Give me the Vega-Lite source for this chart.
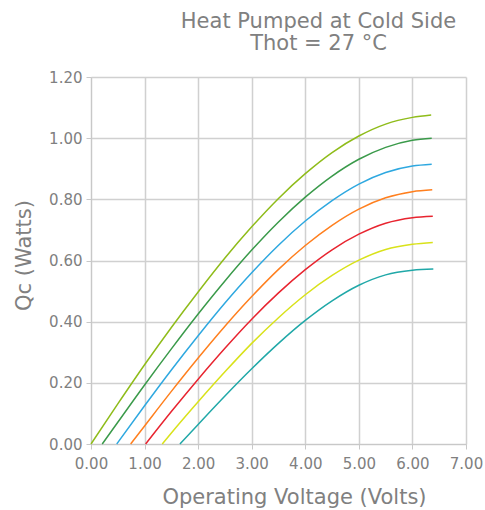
{
  "$schema": "https://vega.github.io/schema/vega-lite/v6.json",
  "width": 375,
  "height": 367,
  "autosize": {"type": "none"},
  "padding": {"left": 91, "top": 77, "right": 19, "bottom": 66},
  "config": {"font": "DejaVu Sans", "view": {"stroke": null}},
  "title": {
    "text": ["Heat Pumped at Cold Side", "Thot = 27 °C"],
    "anchor": "middle",
    "dx": 40,
    "fontSize": 21,
    "fontWeight": "normal",
    "color": "#808080",
    "lineHeight": 22,
    "offset": 16
  },
  "data": {
    "values": [
      {"s": "a", "V": 0.0, "Q": 0.0},
      {"s": "a", "V": 0.5, "Q": 0.131},
      {"s": "a", "V": 1.0, "Q": 0.259},
      {"s": "a", "V": 1.5, "Q": 0.381},
      {"s": "a", "V": 2.0, "Q": 0.497},
      {"s": "a", "V": 2.5, "Q": 0.608},
      {"s": "a", "V": 3.0, "Q": 0.710},
      {"s": "a", "V": 3.5, "Q": 0.803},
      {"s": "a", "V": 4.0, "Q": 0.884},
      {"s": "a", "V": 4.5, "Q": 0.953},
      {"s": "a", "V": 5.0, "Q": 1.007},
      {"s": "a", "V": 5.5, "Q": 1.046},
      {"s": "a", "V": 6.0, "Q": 1.068},
      {"s": "a", "V": 6.35, "Q": 1.076},
      {"s": "b", "V": 0.21, "Q": 0.0},
      {"s": "b", "V": 0.5, "Q": 0.071},
      {"s": "b", "V": 1.0, "Q": 0.193},
      {"s": "b", "V": 1.5, "Q": 0.311},
      {"s": "b", "V": 2.0, "Q": 0.425},
      {"s": "b", "V": 2.5, "Q": 0.533},
      {"s": "b", "V": 3.0, "Q": 0.634},
      {"s": "b", "V": 3.5, "Q": 0.726},
      {"s": "b", "V": 4.0, "Q": 0.807},
      {"s": "b", "V": 4.5, "Q": 0.876},
      {"s": "b", "V": 5.0, "Q": 0.931},
      {"s": "b", "V": 5.5, "Q": 0.970},
      {"s": "b", "V": 6.0, "Q": 0.993},
      {"s": "b", "V": 6.36, "Q": 1.0},
      {"s": "c", "V": 0.48, "Q": 0.0},
      {"s": "c", "V": 1.0, "Q": 0.125},
      {"s": "c", "V": 1.5, "Q": 0.242},
      {"s": "c", "V": 2.0, "Q": 0.354},
      {"s": "c", "V": 2.5, "Q": 0.461},
      {"s": "c", "V": 3.0, "Q": 0.560},
      {"s": "c", "V": 3.5, "Q": 0.650},
      {"s": "c", "V": 4.0, "Q": 0.729},
      {"s": "c", "V": 4.5, "Q": 0.796},
      {"s": "c", "V": 5.0, "Q": 0.850},
      {"s": "c", "V": 5.5, "Q": 0.888},
      {"s": "c", "V": 6.0, "Q": 0.909},
      {"s": "c", "V": 6.36, "Q": 0.915},
      {"s": "d", "V": 0.74, "Q": 0.0},
      {"s": "d", "V": 1.0, "Q": 0.059},
      {"s": "d", "V": 1.5, "Q": 0.172},
      {"s": "d", "V": 2.0, "Q": 0.281},
      {"s": "d", "V": 2.5, "Q": 0.385},
      {"s": "d", "V": 3.0, "Q": 0.482},
      {"s": "d", "V": 3.5, "Q": 0.571},
      {"s": "d", "V": 4.0, "Q": 0.649},
      {"s": "d", "V": 4.5, "Q": 0.715},
      {"s": "d", "V": 5.0, "Q": 0.768},
      {"s": "d", "V": 5.5, "Q": 0.805},
      {"s": "d", "V": 6.0, "Q": 0.825},
      {"s": "d", "V": 6.37, "Q": 0.831},
      {"s": "e", "V": 1.02, "Q": 0.0},
      {"s": "e", "V": 1.5, "Q": 0.106},
      {"s": "e", "V": 2.0, "Q": 0.212},
      {"s": "e", "V": 2.5, "Q": 0.313},
      {"s": "e", "V": 3.0, "Q": 0.408},
      {"s": "e", "V": 3.5, "Q": 0.494},
      {"s": "e", "V": 4.0, "Q": 0.570},
      {"s": "e", "V": 4.5, "Q": 0.635},
      {"s": "e", "V": 5.0, "Q": 0.686},
      {"s": "e", "V": 5.5, "Q": 0.722},
      {"s": "e", "V": 6.0, "Q": 0.740},
      {"s": "e", "V": 6.38, "Q": 0.745},
      {"s": "f", "V": 1.33, "Q": 0.0},
      {"s": "f", "V": 1.5, "Q": 0.036},
      {"s": "f", "V": 2.0, "Q": 0.138},
      {"s": "f", "V": 2.5, "Q": 0.236},
      {"s": "f", "V": 3.0, "Q": 0.329},
      {"s": "f", "V": 3.5, "Q": 0.413},
      {"s": "f", "V": 4.0, "Q": 0.488},
      {"s": "f", "V": 4.5, "Q": 0.551},
      {"s": "f", "V": 5.0, "Q": 0.601},
      {"s": "f", "V": 5.5, "Q": 0.636},
      {"s": "f", "V": 6.0, "Q": 0.653},
      {"s": "f", "V": 6.38, "Q": 0.659},
      {"s": "g", "V": 1.66, "Q": 0.0},
      {"s": "g", "V": 2.0, "Q": 0.064},
      {"s": "g", "V": 2.5, "Q": 0.157},
      {"s": "g", "V": 3.0, "Q": 0.246},
      {"s": "g", "V": 3.5, "Q": 0.329},
      {"s": "g", "V": 4.0, "Q": 0.404},
      {"s": "g", "V": 4.5, "Q": 0.468},
      {"s": "g", "V": 5.0, "Q": 0.519},
      {"s": "g", "V": 5.5, "Q": 0.553},
      {"s": "g", "V": 6.0, "Q": 0.568},
      {"s": "g", "V": 6.39, "Q": 0.572}
    ]
  },
  "mark": {"type": "line", "strokeWidth": 1.5, "interpolate": "monotone"},
  "encoding": {
    "x": {
      "field": "V",
      "type": "quantitative",
      "scale": {"domain": [0, 7], "nice": false},
      "axis": {
        "title": "Operating Voltage (Volts)",
        "values": [0, 1, 2, 3, 4, 5, 6, 7],
        "format": ".2f",
        "labelFlush": false,
        "labelOverlap": false,
        "labelFontSize": 15,
        "labelColor": "#808080",
        "labelPadding": 7,
        "tickSize": 5,
        "tickColor": "#c8c8c8",
        "domainColor": "#c8c8c8",
        "gridColor": "#d0d0d0",
        "gridWidth": 1.5,
        "titleFontSize": 21,
        "titleFontWeight": "normal",
        "titleColor": "#808080",
        "titleX": 203,
        "titleY": 59,
        "titleBaseline": "alphabetic"
      }
    },
    "y": {
      "field": "Q",
      "type": "quantitative",
      "scale": {"domain": [0, 1.2], "nice": false},
      "axis": {
        "title": "Qc (Watts)",
        "values": [0, 0.2, 0.4, 0.6, 0.8, 1.0, 1.2],
        "format": ".2f",
        "labelFlush": false,
        "labelOverlap": false,
        "labelFontSize": 15,
        "labelColor": "#808080",
        "labelPadding": 4,
        "tickSize": 5,
        "tickColor": "#c8c8c8",
        "domainColor": "#c8c8c8",
        "gridColor": "#d0d0d0",
        "gridWidth": 1.5,
        "titleFontSize": 21,
        "titleFontWeight": "normal",
        "titleColor": "#808080",
        "titleX": -61,
        "titleY": 178,
        "titleBaseline": "alphabetic"
      }
    },
    "color": {
      "field": "s",
      "type": "nominal",
      "scale": {
        "domain": ["a", "b", "c", "d", "e", "f", "g"],
        "range": ["#8fbc1a", "#3a9a4a", "#2ea8e0", "#ff7f1e", "#e8242f", "#d9e21a", "#20a8a8"]
      },
      "legend": null
    }
  }
}
